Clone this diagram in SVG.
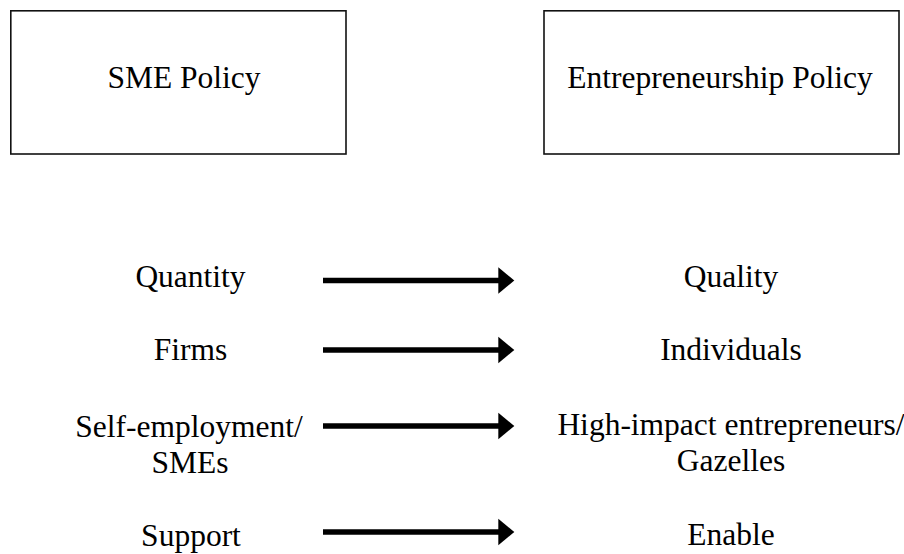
<svg xmlns="http://www.w3.org/2000/svg" width="904" height="554" viewBox="0 0 904 554">
<style>
  .box { fill: #fff; stroke: #111; stroke-width: 1.6; }
  .t { font-family: "Liberation Serif", "Times New Roman", serif; font-size: 31.5px; fill: #000; text-anchor: middle; }
  .conn line { stroke: #000; stroke-width: 5.3; }
  .conn polygon { fill: #000; }
</style>
<rect width="904" height="554" fill="#fff"/>
<g id="sme-policy">
  <rect class="box" x="10.8" y="10.8" width="335.2" height="143.2"/>
  <text class="t" x="184" y="88">SME Policy</text>
</g>
<g id="entrepreneurship-policy">
  <rect class="box" x="544" y="10.8" width="355" height="143.2"/>
  <text class="t" x="720" y="88">Entrepreneurship Policy</text>
</g>
<g id="quantity"><text class="t" x="190.5" y="287">Quantity</text></g>
<g id="quality"><text class="t" x="731" y="287">Quality</text></g>
<g id="firms"><text class="t" x="190.5" y="360">Firms</text></g>
<g id="individuals"><text class="t" x="731" y="360">Individuals</text></g>
<g id="self-employment"><text class="t" x="189" y="437">Self-employment/</text><text class="t" x="190" y="473">SMEs</text></g>
<g id="high-impact"><text class="t" x="731" y="435">High-impact entrepreneurs/</text><text class="t" x="731" y="471">Gazelles</text></g>
<g id="support"><text class="t" x="191" y="546">Support</text></g>
<g id="enable"><text class="t" x="731" y="545">Enable</text></g>
<g id="connectors" class="conn">
  <line x1="323" y1="280.5" x2="500" y2="280.5"/>
  <polygon points="498.3,267.3 514.3,280.5 498.3,293.7"/>
  <line x1="323" y1="350" x2="500" y2="350"/>
  <polygon points="498.3,336.8 514.3,350 498.3,363.2"/>
  <line x1="323" y1="426" x2="500" y2="426"/>
  <polygon points="498.3,412.8 514.3,426 498.3,439.2"/>
  <line x1="323" y1="532" x2="500" y2="532"/>
  <polygon points="498.3,518.8 514.3,532 498.3,545.2"/>
</g>
</svg>
